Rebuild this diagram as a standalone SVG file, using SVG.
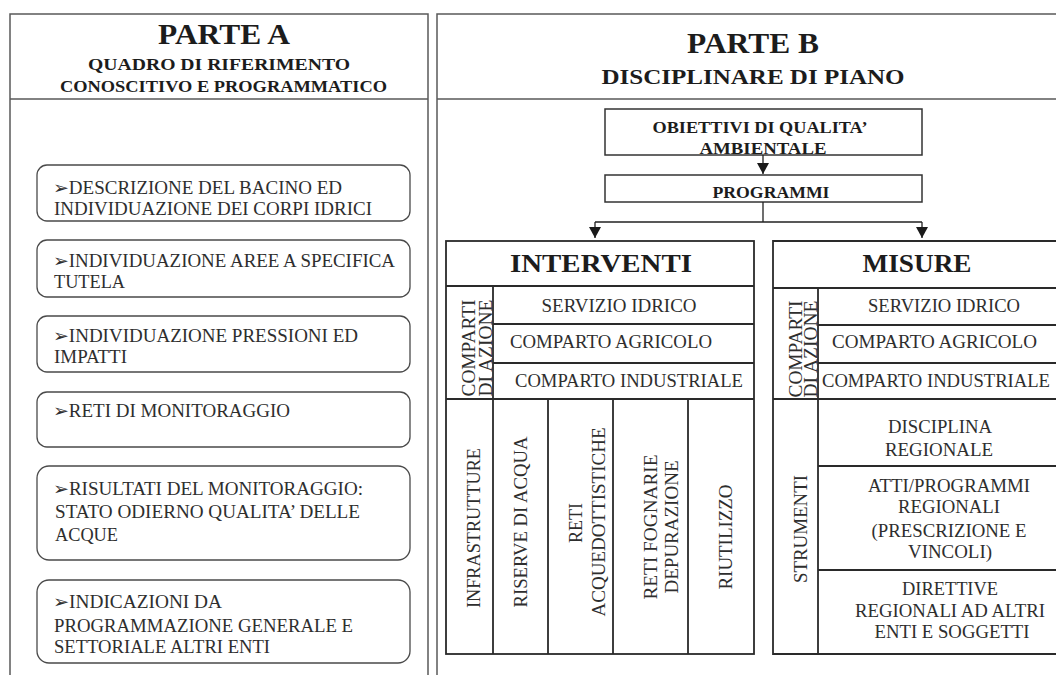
<svg xmlns="http://www.w3.org/2000/svg" width="1056" height="675" viewBox="0 0 1056 675">
<defs>
<style>
.pl{fill:none;stroke:#5a5a5a;stroke-width:1.5}
.bx{fill:#fff;stroke:#4a4a4a;stroke-width:1.3}
.rb{fill:#fff;stroke:#333;stroke-width:1.5}
.tb{fill:none;stroke:#2a2a2a;stroke-width:1.8}
.cn{fill:none;stroke:#222;stroke-width:1.3}
.hd{font-family:"Liberation Serif","Times New Roman",serif;font-weight:bold;fill:#1c1c1c}
.t{font-family:"Liberation Serif","Times New Roman",serif;font-size:18px;fill:#2e2e2e}
.m{text-anchor:middle}
</style>
<marker id="ah" markerUnits="userSpaceOnUse" markerWidth="11" markerHeight="12" refX="11" refY="6" orient="auto">
<path d="M0,0 L11,6 L0,12 Z" fill="#1a1a1a"/>
</marker>
</defs>
<rect width="1056" height="675" fill="#fff"/>

<g id="parteA">
<path class="pl" d="M10,675 V14 H428 V675 M10,99 H428"/>
<text class="hd m" x="224" y="44" font-size="29" textLength="132" lengthAdjust="spacingAndGlyphs">PARTE A</text>
<text class="hd m" x="219" y="70" font-size="17" textLength="262" lengthAdjust="spacingAndGlyphs">QUADRO DI RIFERIMENTO</text>
<text class="hd m" x="223.5" y="92" font-size="17" textLength="327" lengthAdjust="spacingAndGlyphs">CONOSCITIVO E PROGRAMMATICO</text>
</g>

<g id="boxA1">
<rect class="bx" x="37" y="165" width="373" height="56" rx="10"/>
<text class="t" x="53" y="194" textLength="289" lengthAdjust="spacingAndGlyphs">➢DESCRIZIONE DEL BACINO ED</text>
<text class="t" x="54" y="215" textLength="318" lengthAdjust="spacingAndGlyphs">INDIVIDUAZIONE DEI CORPI IDRICI</text>
</g>
<g id="boxA2">
<rect class="bx" x="37" y="240" width="373" height="57" rx="10"/>
<text class="t" x="53" y="267" textLength="342" lengthAdjust="spacingAndGlyphs">➢INDIVIDUAZIONE AREE A SPECIFICA</text>
<text class="t" x="54" y="288" textLength="71" lengthAdjust="spacingAndGlyphs">TUTELA</text>
</g>
<g id="boxA3">
<rect class="bx" x="37" y="316" width="373" height="56" rx="10"/>
<text class="t" x="53" y="342" textLength="305" lengthAdjust="spacingAndGlyphs">➢INDIVIDUAZIONE PRESSIONI ED</text>
<text class="t" x="54" y="363" textLength="73" lengthAdjust="spacingAndGlyphs">IMPATTI</text>
</g>
<g id="boxA4">
<rect class="bx" x="37" y="392" width="373" height="55" rx="10"/>
<text class="t" x="53" y="417" textLength="237" lengthAdjust="spacingAndGlyphs">➢RETI DI MONITORAGGIO</text>
</g>
<g id="boxA5">
<rect class="bx" x="37" y="466" width="373" height="94" rx="12"/>
<text class="t" x="53" y="495" textLength="310" lengthAdjust="spacingAndGlyphs">➢RISULTATI DEL MONITORAGGIO:</text>
<text class="t" x="55" y="518" textLength="305" lengthAdjust="spacingAndGlyphs">STATO ODIERNO QUALITA’ DELLE</text>
<text class="t" x="55" y="541" textLength="63" lengthAdjust="spacingAndGlyphs">ACQUE</text>
</g>
<g id="boxA6">
<rect class="bx" x="37" y="580" width="373" height="83" rx="12"/>
<text class="t" x="53" y="608" textLength="169" lengthAdjust="spacingAndGlyphs">➢INDICAZIONI DA</text>
<text class="t" x="54" y="632" textLength="299" lengthAdjust="spacingAndGlyphs">PROGRAMMAZIONE GENERALE E</text>
<text class="t" x="54" y="653" textLength="216" lengthAdjust="spacingAndGlyphs">SETTORIALE ALTRI ENTI</text>
</g>

<g id="parteB">
<path class="pl" d="M437,675 V14 H1056 M437,99 H1056"/>
<text class="hd m" x="753" y="53" font-size="29" textLength="132" lengthAdjust="spacingAndGlyphs">PARTE B</text>
<text class="hd m" x="753" y="84" font-size="20" textLength="303" lengthAdjust="spacingAndGlyphs">DISCIPLINARE DI PIANO</text>
</g>

<g id="obiettivi">
<rect class="rb" x="605" y="109" width="317" height="46"/>
<text class="hd m" x="760" y="133" font-size="16" textLength="215" lengthAdjust="spacingAndGlyphs">OBIETTIVI DI QUALITA’</text>
<text class="hd m" x="763" y="154" font-size="16" textLength="127" lengthAdjust="spacingAndGlyphs">AMBIENTALE</text>
</g>
<g id="programmi">
<rect class="rb" x="605" y="175" width="317" height="27"/>
<text class="hd m" x="771" y="198" font-size="16" textLength="117" lengthAdjust="spacingAndGlyphs">PROGRAMMI</text>
</g>

<g id="connectors">
<path class="cn" d="M763,155 V174" marker-end="url(#ah)"/>
<path class="cn" d="M763,202 V222 M595,222 H922"/>
<path class="cn" d="M595,222 V238" marker-end="url(#ah)"/>
<path class="cn" d="M922,222 V238" marker-end="url(#ah)"/>
</g>

<g id="interventi">
<rect class="tb" x="446" y="241" width="308" height="413"/>
<path class="tb" d="M446,286 H754 M493,286 V654 M493,324 H754 M493,363 H754 M446,399 H754 M548,399 V654 M613,399 V654 M688,399 V654"/>
<text class="hd m" x="601" y="272" font-size="25" textLength="182" lengthAdjust="spacingAndGlyphs">INTERVENTI</text>
<text class="t m" transform="translate(475,348) rotate(-90)" textLength="97" lengthAdjust="spacingAndGlyphs">COMPARTI</text>
<text class="t m" transform="translate(492,348) rotate(-90)" textLength="97" lengthAdjust="spacingAndGlyphs">DI AZIONE</text>
<text class="t m" x="619" y="312" textLength="155" lengthAdjust="spacingAndGlyphs">SERVIZIO IDRICO</text>
<text class="t" x="510" y="348" textLength="202" lengthAdjust="spacingAndGlyphs">COMPARTO AGRICOLO</text>
<text class="t" x="515" y="387" textLength="228" lengthAdjust="spacingAndGlyphs">COMPARTO INDUSTRIALE</text>
<text class="t m" transform="translate(480,528) rotate(-90)" textLength="160" lengthAdjust="spacingAndGlyphs">INFRASTRUTTURE</text>
<text class="t m" transform="translate(527,522) rotate(-90)" textLength="171" lengthAdjust="spacingAndGlyphs">RISERVE DI ACQUA</text>
<text class="t m" transform="translate(582,523) rotate(-90)" textLength="40" lengthAdjust="spacingAndGlyphs">RETI</text>
<text class="t m" transform="translate(605,522) rotate(-90)" textLength="189" lengthAdjust="spacingAndGlyphs">ACQUEDOTTISTICHE</text>
<text class="t m" transform="translate(657,527) rotate(-90)" textLength="145" lengthAdjust="spacingAndGlyphs">RETI FOGNARIE</text>
<text class="t m" transform="translate(678,527) rotate(-90)" textLength="133" lengthAdjust="spacingAndGlyphs">DEPURAZIONE</text>
<text class="t m" transform="translate(732,537) rotate(-90)" textLength="105" lengthAdjust="spacingAndGlyphs">RIUTILIZZO</text>
</g>

<g id="misure">
<path class="tb" d="M1060,241 H773 V654 H1060 M773,288 H1060 M818,288 V654 M818,325 H1060 M818,363 H1060 M773,399 H1060 M818,466 H1060 M818,570 H1060"/>
<text class="hd m" x="917" y="272" font-size="25" textLength="109" lengthAdjust="spacingAndGlyphs">MISURE</text>
<text class="t m" transform="translate(802,349) rotate(-90)" textLength="97" lengthAdjust="spacingAndGlyphs">COMPARTI</text>
<text class="t m" transform="translate(817,349) rotate(-90)" textLength="97" lengthAdjust="spacingAndGlyphs">DI AZIONE</text>
<text class="t m" x="944" y="312" textLength="152" lengthAdjust="spacingAndGlyphs">SERVIZIO IDRICO</text>
<text class="t" x="832" y="348" textLength="205" lengthAdjust="spacingAndGlyphs">COMPARTO AGRICOLO</text>
<text class="t" x="822" y="387" textLength="228" lengthAdjust="spacingAndGlyphs">COMPARTO INDUSTRIALE</text>
<text class="t m" transform="translate(807,529) rotate(-90)" textLength="108" lengthAdjust="spacingAndGlyphs">STRUMENTI</text>
<text class="t m" x="940" y="433" textLength="104" lengthAdjust="spacingAndGlyphs">DISCIPLINA</text>
<text class="t m" x="939" y="456" textLength="108" lengthAdjust="spacingAndGlyphs">REGIONALE</text>
<text class="t m" x="949" y="492" textLength="162" lengthAdjust="spacingAndGlyphs">ATTI/PROGRAMMI</text>
<text class="t m" x="949" y="513" textLength="102" lengthAdjust="spacingAndGlyphs">REGIONALI</text>
<text class="t m" x="949" y="537" textLength="155" lengthAdjust="spacingAndGlyphs">(PRESCRIZIONE E</text>
<text class="t m" x="950" y="558" textLength="84" lengthAdjust="spacingAndGlyphs">VINCOLI)</text>
<text class="t m" x="950" y="595" textLength="96" lengthAdjust="spacingAndGlyphs">DIRETTIVE</text>
<text class="t m" x="950" y="617" textLength="190" lengthAdjust="spacingAndGlyphs">REGIONALI AD ALTRI</text>
<text class="t m" x="952" y="638" textLength="155" lengthAdjust="spacingAndGlyphs">ENTI E SOGGETTI</text>
</g>
</svg>
